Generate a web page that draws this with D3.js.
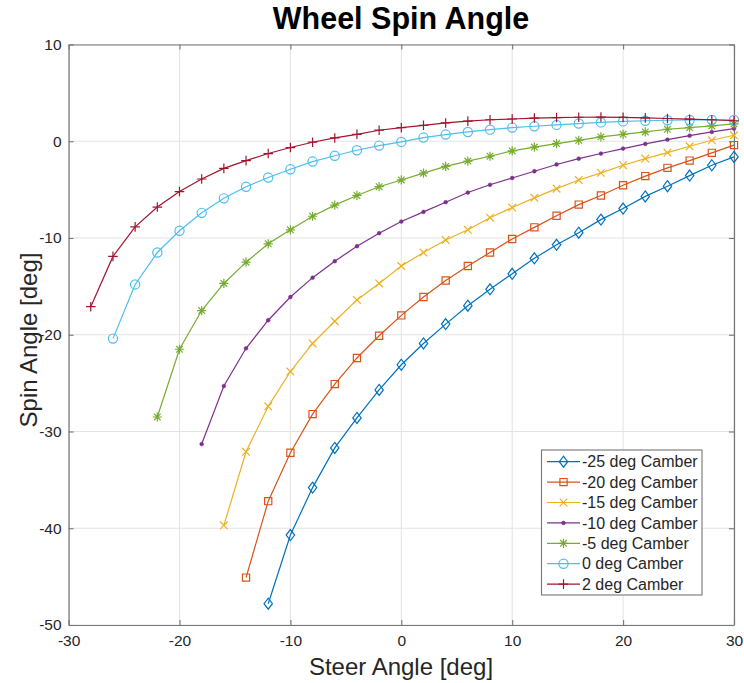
<!DOCTYPE html>
<html>
<head>
<meta charset="utf-8">
<script src="https://cdn.jsdelivr.net/npm/d3@7"></script>
<style>
  html, body { margin: 0; padding: 0; background: #fff; }
  svg { display: block; font-family: "Liberation Sans", Arial, Helvetica, sans-serif; }
</style>
</head>
<body>
<svg id="chart" width="744" height="683"></svg>
<script>
// ---------- data ----------
const steerAngles = [-28, -26, -24, -22, -20, -18, -16, -14, -12, -10, -8, -6, -4, -2, 0,
                     2, 4, 6, 8, 10, 12, 14, 16, 18, 20, 22, 24, 26, 28, 30];

const seriesNames = ["-25 deg Camber", "-20 deg Camber", "-15 deg Camber", "-10 deg Camber",
                     "-5 deg Camber", "0 deg Camber", "2 deg Camber"];

// each series runs up to steer 30; listed from its first steer angle
const camberM25 = [-47.8, -40.7, -35.8, -31.7, -28.6, -25.7, -23.1, -20.9, -18.9, -17.0, -15.3,
                   -13.7, -12.1, -10.7, -9.45, -8.1, -6.96, -5.7, -4.65, -3.55, -2.48, -1.62];
const camberM20 = [-45.1, -37.2, -32.2, -28.2, -25.1, -22.4, -20.1, -18.0, -16.1, -14.4, -12.9,
                   -11.5, -10.1, -8.9, -7.7, -6.55, -5.6, -4.55, -3.6, -2.75, -2.0, -1.2, -0.4];
const camberM15 = [-39.7, -32.1, -27.4, -23.8, -20.9, -18.6, -16.4, -14.7, -12.9, -11.5, -10.2,
                   -9.15, -7.9, -6.85, -5.85, -4.9, -4.0, -3.27, -2.48, -1.79, -1.17, -0.52, 0.1, 0.62];
const camberM10 = [-31.3, -25.3, -21.4, -18.5, -16.1, -14.1, -12.4, -10.85, -9.5, -8.3, -7.3,
                   -6.3, -5.3, -4.5, -3.8, -3.1, -2.4, -1.8, -1.27, -0.76, -0.28, 0.17, 0.58, 0.96, 1.31];
const camberM5  = [-28.5, -21.5, -17.5, -14.7, -12.5, -10.6, -9.15, -7.75, -6.6, -5.6, -4.7,
                   -4.0, -3.3, -2.6, -2.05, -1.55, -1.0, -0.6, -0.24, 0.1, 0.45, 0.72, 0.96, 1.24,
                   1.41, 1.58, 1.79];
const camber0   = [-20.4, -14.8, -11.5, -9.25, -7.4, -5.9, -4.7, -3.75, -2.9, -2.1, -1.5, -0.93,
                   -0.45, -0.07, 0.38, 0.69, 0.96, 1.2, 1.41, 1.55, 1.69, 1.83, 1.95, 2.05, 2.12,
                   2.17, 2.2, 2.2, 2.2];
const camber2   = [-17.1, -11.9, -8.85, -6.8, -5.2, -3.9, -2.8, -2.0, -1.27, -0.65, -0.1, 0.34,
                   0.72, 1.14, 1.41, 1.65, 1.89, 2.08, 2.22, 2.3, 2.4, 2.45, 2.48, 2.5, 2.47,
                   2.42, 2.35, 2.28, 2.22, 2.12];

const xTicks = [-30, -20, -10, 0, 10, 20, 30];
const yTicks = [-50, -40, -30, -20, -10, 0, 10];
const xTickLabels = ["-30", "-20", "-10", "0", "10", "20", "30"];
const yTickLabels = ["-50", "-40", "-30", "-20", "-10", "0", "10"];

const seriesValues = [camberM25, camberM20, camberM15, camberM10, camberM5, camber0, camber2];
const colors = ["#0072BD", "#D95319", "#EDB120", "#7E2F8E", "#77AC30", "#4DBEEE", "#A2142F"];
const markers = ["diamond", "square", "x", "dot", "asterisk", "circle", "plus"];

// ---------- layout ----------
const svg = d3.select("#chart");
const M = { left: 68.6, right: 734, top: 44.5, bottom: 625 };
const x = d3.scaleLinear().domain([-30, 30]).range([M.left, M.right]);
const y = d3.scaleLinear().domain([-50, 10]).range([M.bottom, M.top]);

const axisColor = "#767676";
const textColor = "#262626";

// grid
const g = svg.append("g");
g.append("g").selectAll("line").data(xTicks).join("line")
  .attr("x1", d => x(d)).attr("x2", d => x(d))
  .attr("y1", M.top).attr("y2", M.bottom)
  .attr("stroke", "#e3e3e3").attr("stroke-width", 1);
g.append("g").selectAll("line").data(yTicks).join("line")
  .attr("y1", d => y(d)).attr("y2", d => y(d))
  .attr("x1", M.left).attr("x2", M.right)
  .attr("stroke", "#e3e3e3").attr("stroke-width", 1);

// axes (ticks inward, on all four sides)
const tickLen = 5;
const xAxisB = d3.axisBottom(x).tickValues(xTicks).tickSizeInner(-tickLen).tickSizeOuter(0).tickPadding(10)
  .tickFormat((d, i) => xTickLabels[i]);
const xAxisT = d3.axisTop(x).tickValues(xTicks).tickSizeInner(-tickLen).tickSizeOuter(0).tickFormat("");
const yAxisL = d3.axisLeft(y).tickValues(yTicks).tickSizeInner(-tickLen).tickSizeOuter(0).tickPadding(7)
  .tickFormat((d, i) => yTickLabels[i]);
const yAxisR = d3.axisRight(y).tickValues(yTicks).tickSizeInner(-tickLen).tickSizeOuter(0).tickFormat("");

function styleAxis(sel) {
  sel.select(".domain").attr("stroke", axisColor).attr("stroke-width", 1.2);
  sel.selectAll(".tick line").attr("stroke", axisColor).attr("stroke-width", 1.1);
  sel.selectAll(".tick text").attr("fill", textColor).style("font-size", "15.5px")
     .style("font-family", "'Liberation Sans', Arial, sans-serif");
}
svg.append("g").attr("transform", `translate(0,${M.bottom})`).call(xAxisB).call(styleAxis);
svg.append("g").attr("transform", `translate(0,${M.top})`).call(xAxisT).call(styleAxis);
svg.append("g").attr("transform", `translate(${M.left},0)`).call(yAxisL).call(styleAxis);
svg.append("g").attr("transform", `translate(${M.right},0)`).call(yAxisR).call(styleAxis);

// ---------- markers ----------
function markerPath(type) {
  switch (type) {
    case "diamond": return "M0,-5.5L4.2,0L0,5.5L-4.2,0Z";
    case "square": return "M-3.6,-3.6H3.6V3.6H-3.6Z";
    case "x": return "M-3.8,-3.8L3.8,3.8M-3.8,3.8L3.8,-3.8";
    case "plus": return "M-4.8,0H4.8M0,-4.8V4.8";
    case "asterisk": return "M-4.6,0H4.6M0,-4.6V4.6M-3.3,-3.3L3.3,3.3M-3.3,3.3L3.3,-3.3";
    case "circle": return d3.arc()({innerRadius: 0, outerRadius: 4.6, startAngle: 0, endAngle: 2 * Math.PI});
    case "dot": return d3.arc()({innerRadius: 0, outerRadius: 1.9, startAngle: 0, endAngle: 2 * Math.PI});
  }
}

function drawMarker(sel, type, color) {
  sel.append("path").attr("d", markerPath(type))
    .attr("fill", type === "dot" ? color : "none")
    .attr("stroke", color).attr("stroke-width", type === "dot" ? 0.5 : 1.2);
}

// ---------- series ----------
const line = d3.line().x(d => x(d.s)).y(d => y(d.v));
const plot = svg.append("g");
seriesValues.forEach((vals, i) => {
  const offset = steerAngles.length - vals.length;
  const pts = vals.map((v, k) => ({ s: steerAngles[offset + k], v }));
  plot.append("path").datum(pts).attr("d", line)
    .attr("fill", "none").attr("stroke", colors[i]).attr("stroke-width", 1.2);
  pts.forEach(p => {
    const m = plot.append("g").attr("transform", `translate(${x(p.s)},${y(p.v)})`);
    drawMarker(m, markers[i], colors[i]);
  });
});

// ---------- legend ----------
const lg = svg.append("g");
lg.append("rect").attr("x", 541.5).attr("y", 450).attr("width", 160.5).attr("height", 145)
  .attr("fill", "#fff").attr("stroke", axisColor).attr("stroke-width", 1.1);
seriesNames.forEach((name, i) => {
  const cy = 461.7 + i * 20.4;
  lg.append("line").attr("x1", 547).attr("x2", 580).attr("y1", cy).attr("y2", cy)
    .attr("stroke", colors[i]).attr("stroke-width", 1.2);
  const m = lg.append("g").attr("transform", `translate(563.5,${cy})`);
  drawMarker(m, markers[i], colors[i]);
  lg.append("text").attr("x", 582).attr("y", cy + 5.6).text(name)
    .attr("fill", textColor).style("font-size", "16px");
});

// ---------- titles ----------
svg.append("text").attr("x", 401).attr("y", 28.5).attr("text-anchor", "middle")
  .style("font-size", "30.5px").style("font-weight", "bold").attr("fill", "#000")
  .text("Wheel Spin Angle");
svg.append("text").attr("x", 401).attr("y", 675).attr("text-anchor", "middle")
  .style("font-size", "24px").attr("fill", textColor).text("Steer Angle [deg]");
svg.append("text").attr("transform", "translate(37,340) rotate(-90)").attr("text-anchor", "middle")
  .style("font-size", "24px").attr("fill", textColor).text("Spin Angle [deg]");
</script>
</body>
</html>
